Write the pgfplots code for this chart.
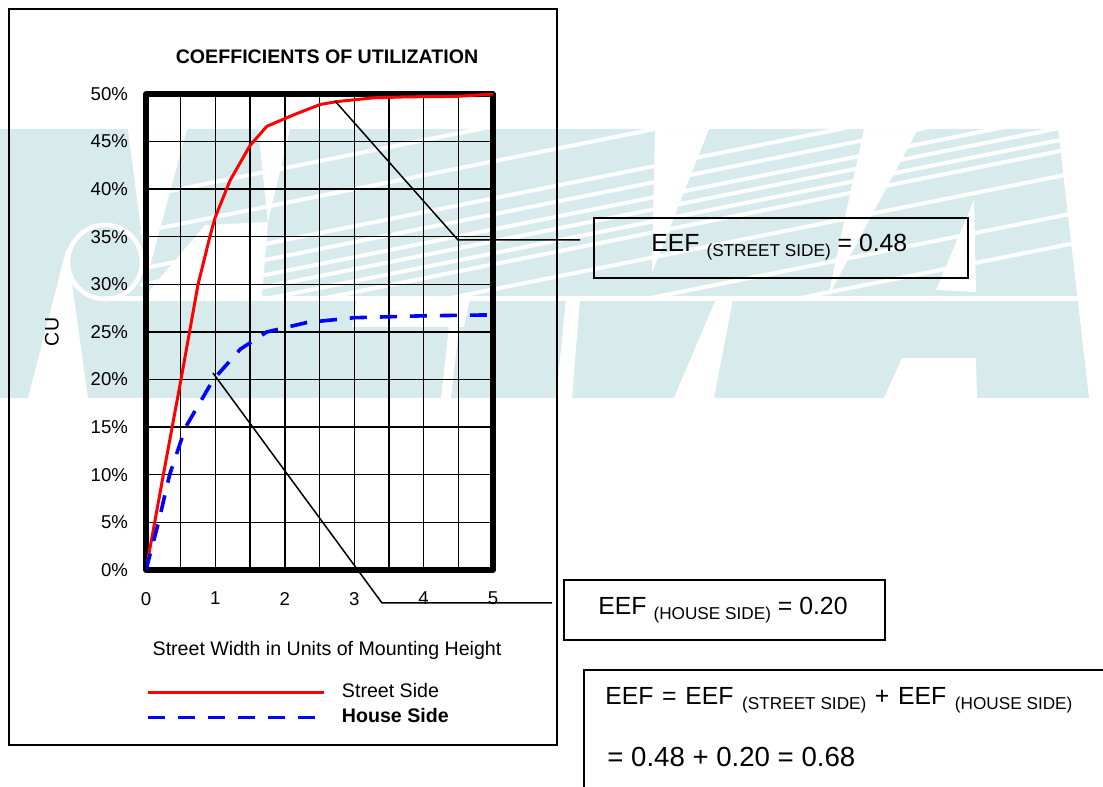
\documentclass[border=0pt]{standalone}
\usepackage{fontspec}
\setmainfont{Liberation Sans}
\usepackage{pgfplots}
\pgfplotsset{compat=1.18}
\definecolor{wm}{RGB}{215,234,236}
\definecolor{sred}{RGB}{255,0,0}
\definecolor{hblue}{RGB}{0,0,255}
\newcommand\lab{\fontsize{9.8}{11}\selectfont}
\newcommand\tlab{\fontsize{9.3}{11}\selectfont}
\newcommand\eeffont{\fontsize{12.4}{14}\selectfont}
\newcommand\sub[1]{\raisebox{-2.2pt}{\fontsize{8.6}{9}\selectfont #1}}
\newcommand\wsp{\hspace{4.3pt}}

\pgfplotstableread{
x y
0 0
0.25 10
0.514 20.4
0.75 30
0.92 35
0.995 37.0
1.21 40.9
1.5 44.6
1.74 46.6
2.125 47.8
2.51 48.9
2.75 49.2
3.28 49.6
3.76 49.7
4.48 49.75
5 50
}\streetside

\pgfplotstableread{
x y
0 0
0.18 5
0.34 10
0.57 15
0.97 20
1.36 23.2
1.74 25.0
2.32 26.0
3.0 26.5
4.0 26.7
5.0 26.8
}\houseside

\begin{document}
\begin{tikzpicture}[x=0.5pt,y=0.5pt]
\useasboundingbox (0,0) rectangle (1103,787);
\begin{scope}
\clip (0,0) rectangle (1103,787);
\begin{scope}[y=-0.5pt,shift={(0,-787)}]
 % watermark
 \fill[wm] (0,129) -- (1058,129) -- (1089,398) -- (0,398) -- cycle;
 \begin{scope}
  \clip (140,129) rectangle (1100,296);
  \foreach \yy in {197,232,269,285,300,312,324,335,360,400,430}
    \draw[white,line width=2pt] (140,\yy) -- (1100,\yy-192);
 \end{scope}
 \fill[white] (128,129) -- (187,129) -- (147,277) -- cycle;
 \fill[white] (258,129) -- (290,129) -- (268,222) -- cycle;
 \fill[white] (150,290) -- (205,225) -- (268,222) -- (262,297) -- (147,297) -- cycle;
 \fill[white] (67,247) -- (88,398) -- (28,398) -- cycle;
 \draw[white,line width=2.3pt] (105,262) circle (37);
 \draw[white,line width=2.5pt] (105,299) -- (1095,299);
 \fill[white] (357,299) -- (470,299) -- (464,327) -- (352,327) -- cycle;
 \fill[white] (452,299) -- (462,299) -- (451,398) -- (441,398) -- cycle;
 \fill[white] (566,299) -- (580,299) -- (572,398) -- (556,398) -- cycle;
 \fill[white] (716,299) -- (733,299) -- (714,398) -- (674,398) -- cycle;
 \fill[white] (655,129) -- (709,129) -- (652,273) -- cycle;
 \fill[white] (864,129) -- (918,129) -- (828,297) -- cycle;
 \fill[white] (974,200) -- (976,292) -- (936,290) -- cycle;
 \fill[white] (902,358) -- (976,358) -- (977,398) -- (884,398) -- cycle;
 % outer frame
 \draw[line width=1pt] (9,9) rectangle (557,745);
\end{scope}
\end{scope}

\begin{axis}[
  at={(73pt,108.5pt)}, anchor=south west,
  width=173.5pt, height=238pt, scale only axis,
  xmin=0, xmax=5, ymin=0, ymax=50,
  xtick={0,1,2,3,4,5},
  minor xtick={0.5,1.5,2.5,3.5,4.5},
  ytick={0,5,...,50},
  grid=both,
  grid style={black, line width=0.7pt},
  minor grid style={black, line width=0.7pt},
  major tick length=0pt, minor tick length=0pt,
  axis line style={line width=2.6pt, line join=round, line cap=round},
  /pgf/number format/assume math mode=true,
  ticklabel style={font=\tlab},
  yticklabel={\pgfmathprintnumber{\tick}\%},
  xticklabel style={yshift=-7.5pt},
  yticklabel style={xshift=-5.5pt},
  title={COEFFICIENTS OF UTILIZATION},
  title style={font=\bfseries\fontsize{9.8}{11}\selectfont, at={(axis description cs:0.5216,1.0525)}, anchor=center},
  xlabel={Street Width in Units of Mounting Height},
  xlabel style={font=\lab, at={(axis description cs:0.5216,-0.168)}, anchor=center},
  ylabel={CU},
  ylabel style={font=\lab, at={(axis description cs:-0.271,0.5)}, anchor=center},
  legend style={at={(axis description cs:0,-0.2374)}, anchor=north west,
    draw=none, fill=none, inner sep=0pt, font=\lab, row sep=3.5pt,
    nodes={inner sep=0pt, text height=7pt, text depth=2pt},
    /tikz/every odd column/.append style={column sep=8pt}},
  legend cell align=left,
  legend image code/.code={\draw[#1] (0pt,0pt) -- (88pt,0pt);},
]
\addplot[sred, line width=1.5pt, line join=round] table[x=x,y=y] {\streetside};
\addlegendentry{Street Side}
\addplot[hblue, line width=1.8pt, dash pattern=on 8.5pt off 6.5pt] table[x=x,y=y] {\houseside};
\addlegendentry{\textbf{House Side}}
\end{axis}

\begin{scope}[y=-0.5pt,shift={(0,-787)}]
 \draw[line width=0.75pt] (335,101) -- (458,240) -- (580,240);
 \draw[line width=0.9pt] (594,218) rectangle (968,278);
 \node[anchor=base west, inner sep=0pt, font=\eeffont] at (651,252) {EEF \sub{(STREET SIDE)} = 0.48};
 \draw[line width=0.75pt] (213,373) -- (382,603) -- (552,603);
 \draw[line width=0.9pt] (564,580) rectangle (885,640);
 \node[anchor=base west, inner sep=0pt, font=\eeffont] at (598,615) {EEF \sub{(HOUSE SIDE)} = 0.20};
 \draw[line width=0.9pt] (584,800) -- (584,670) -- (1110,670);
 \node[anchor=base west, inner sep=0pt, font=\eeffont] at (605,705) {EEF\wsp=\wsp EEF\wsp\sub{(STREET SIDE)}\wsp+\wsp EEF\wsp\sub{(HOUSE SIDE)}};
 \node[anchor=base west, inner sep=0pt, font=\fontsize{13.8}{16}\selectfont] at (607,767) {= 0.48 + 0.20 = 0.68};
\end{scope}
\end{tikzpicture}
\end{document}
